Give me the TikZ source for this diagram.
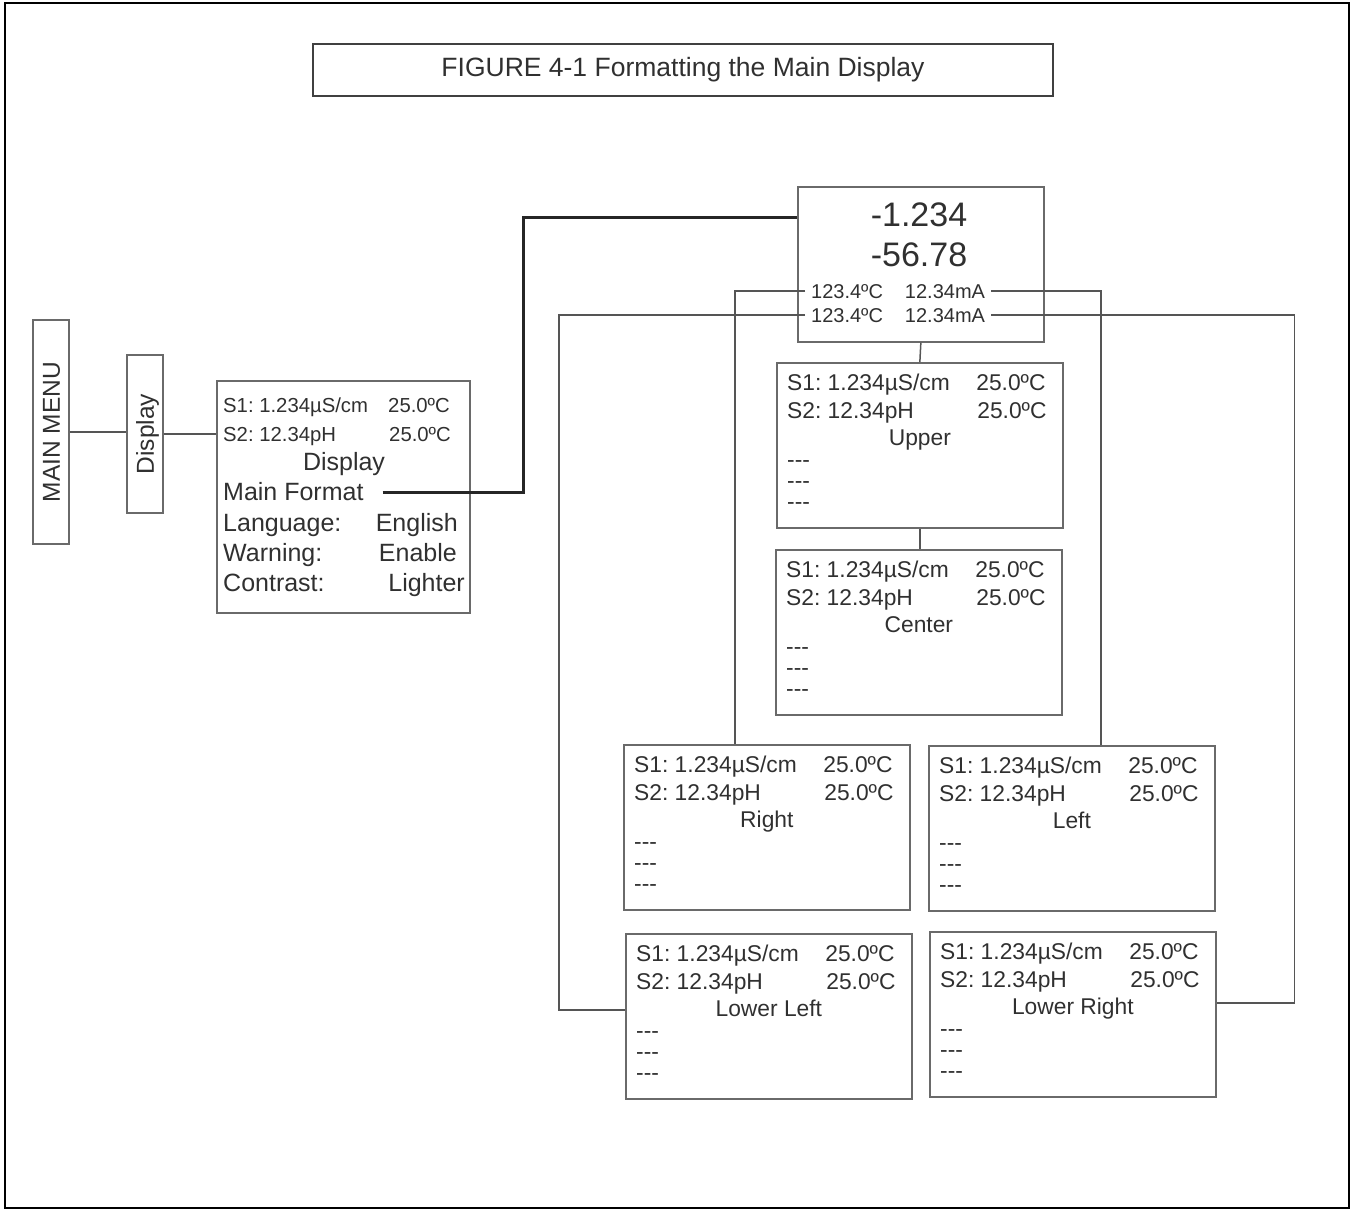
\documentclass[tikz,border=0pt]{standalone}
\usepackage{fontspec}
\setmainfont{Liberation Sans}
\usepackage{tikz}
\usetikzlibrary{positioning}
\frenchspacing

\definecolor{inkgray}{HTML}{303030}
\definecolor{boxgray}{HTML}{6A6A6A}
\definecolor{wiregray}{HTML}{555555}

\newcommand{\sz}[1]{\fontsize{#1}{#1}\selectfont}

\tikzset{
  box/.style={draw=boxgray, line width=1.7pt, inner sep=0pt},
  screen/.style={box, minimum width=286pt, minimum height=165pt},
  subtxt/.style={font=\sz{22.8}, text=inkgray, inner sep=0pt, text height=15.7pt, text depth=0pt},
  dashtxt/.style={font=\fontsize{22.8}{21}\selectfont, text=inkgray, inner sep=0pt, align=left},
  smalltxt/.style={font=\sz{20.3}, text=inkgray, inner sep=0pt, text height=14.3pt, text depth=0pt},
  bigtxt/.style={font=\sz{25}, text=inkgray, inner sep=0pt, text height=17.9pt, text depth=0pt},
  hugetxt/.style={font=\sz{34}, text=inkgray, inner sep=0pt, text height=24.3pt, text depth=0pt},
  rowtxt/.style={font=\sz{20}, text=inkgray, inner xsep=6pt, inner ysep=0pt, text height=14.3pt, text depth=0pt},
  sidetxt/.style={box, rotate=90, minimum height=36pt, font=\sz{24.5}, text=inkgray, text height=17.5pt, text depth=0pt},
  wire/.style={draw=wiregray, line width=1.5pt},
  heavy/.style={draw=black!85, line width=3pt}
}

% one sub screen of the main format menu
\newcommand{\menuscreen}[3]{%
  \node[screen, anchor=north west] (#1) at #2 {};
  \node[subtxt, anchor=west] (#1-s1) at ([shift={(11,21)}]#1.north west) {S1: 1.234µS/cm};
  \node[subtxt, anchor=east] (#1-t1) at ([shift={(-18,21)}]#1.north east) {25.0ºC};
  \node[subtxt, anchor=west] (#1-s2) at ([shift={(11,49)}]#1.north west) {S2: 12.34pH};
  \node[subtxt, anchor=east] (#1-t2) at ([shift={(-17,49)}]#1.north east) {25.0ºC};
  \node[subtxt] (#1-lab) at ([shift={(0,76)}]#1.north) {#3};
  \node[dashtxt, anchor=west] (#1-dash) at ([shift={(11,123)}]#1.north west) {-{}-{}-\\-{}-{}-\\-{}-{}-};
}

\begin{document}
\begin{tikzpicture}[x=1pt, y=-1pt]
    \useasboundingbox (0,0) rectangle (1355,1214);
    \draw[line width=2.5pt] (5,3) rectangle (1349,1208);

    \node[box, draw=black!75, line width=1.3pt, minimum width=740pt, minimum height=52pt, font=\sz{26.5}, text=inkgray] (title) at (683,70) {FIGURE 4-1 Formatting the Main Display};

    \node[sidetxt, minimum width=224pt] (mainmenu) at (51,432) {MAIN MENU};
    \node[sidetxt, minimum width=158pt] (display) at (145,434) {Display};

    % display menu
    \node[box, anchor=north west, minimum width=253pt, minimum height=232pt] (mainbox) at (216,380) {};
    \node[smalltxt, anchor=west] (ms1) at (223,405) {S1: 1.234µS/cm};
    \node[smalltxt, anchor=east] (mt1) at (450,405) {25.0ºC};
    \node[smalltxt, anchor=west] (ms2) at (223,434) {S2: 12.34pH};
    \node[smalltxt, anchor=east] (mt2) at (451,434) {25.0ºC};
    \node[bigtxt] (mhead) at (344,462) {Display};
    \node[bigtxt, anchor=west] (mf) at (223,492) {Main Format};
    \node[bigtxt, anchor=west] (lang) at (223,523) {Language:};
    \node[bigtxt, anchor=east] (langv) at (458,523) {English};
    \node[bigtxt, anchor=west] (warn) at (223,553) {Warning:};
    \node[bigtxt, anchor=east] (warnv) at (457,553) {Enable};
    \node[bigtxt, anchor=west] (contr) at (223,583) {Contrast:};
    \node[bigtxt, anchor=east] (contrv) at (465,583) {Lighter};

    % main display
    \node[box, anchor=north west, minimum width=246pt, minimum height=155pt] (topbox) at (797,186) {};
    \node[hugetxt] (pv) at (919,214) {-1.234};
    \node[hugetxt] (sv) at (919,254) {-56.78};
    \node[rowtxt, anchor=west] (rowa) at (805,291) {123.4ºC\hspace{22pt}12.34mA};
    \node[rowtxt, anchor=west] (rowb) at (805,315) {123.4ºC\hspace{22pt}12.34mA};

    \menuscreen{upper}{(776,362)}{Upper}
    \menuscreen{center}{(775,549)}{Center}
    \menuscreen{right}{(623,744)}{Right}
    \menuscreen{left}{(928,745)}{Left}
    \menuscreen{lowleft}{(625,933)}{Lower Left}
    \menuscreen{lowright}{(929,931)}{Lower Right}

    \coordinate (topin) at ([shift={(0,32)}]topbox.north west);
    \coordinate (jog) at (523,350);
    \coordinate (rightin) at ([shift={(112,0)}]right.north west);
    \coordinate (leftin) at ([shift={(173,0)}]left.north west);
    \coordinate (lowleftin) at ([shift={(0,77)}]lowleft.north west);
    \coordinate (lowrightin) at ([shift={(0,72)}]lowright.north east);

    \draw[wire] (mainmenu.south) -- (mainmenu.south -| display.north);
    \draw[wire] (display.south) -- (display.south -| mainbox.west);
    \draw[heavy] ([xshift=19pt]mf.east) -| (jog |- topin) -- (topin);
    \draw[wire] (topbox.south) -- (upper.north);
    \draw[wire] (upper.south) -- (upper.south |- center.north);
    \draw[wire] (rowa.west) -| (rightin);
    \draw[wire] (rowa.east) -| (leftin);
    \draw[wire] (rowb.west) -| ([xshift=-66pt]lowleftin) -- (lowleftin);
    \draw[wire] (rowb.east) -| ([xshift=78pt]lowrightin) -- (lowrightin);
\end{tikzpicture}
\end{document}
